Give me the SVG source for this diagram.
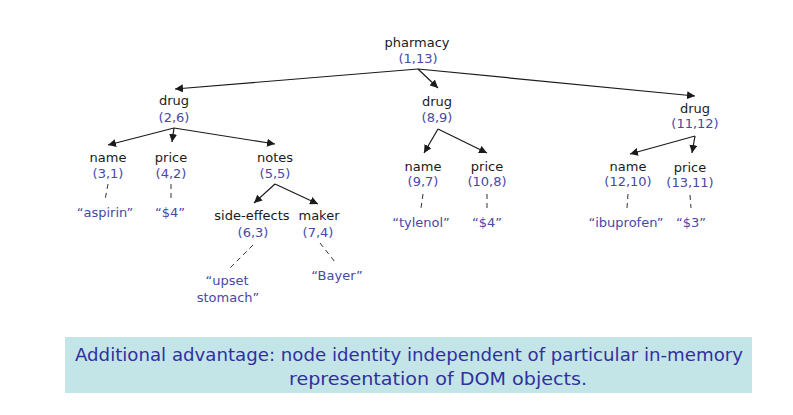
<svg xmlns="http://www.w3.org/2000/svg" width="793" height="415" viewBox="0 0 793 415">
<style>
text{font-family:"DejaVu Sans","Liberation Sans",sans-serif;font-size:13px;text-anchor:middle}
.l{fill:#1a1a1a}
.n{fill:#4848a8}
.e{stroke:#1a1a1a;stroke-width:1.2;fill:none;marker-end:url(#ah)}
.d{stroke:#333;stroke-width:1;fill:none;stroke-dasharray:5 4}
.note{font-family:"Comic Sans MS","DejaVu Sans Condensed","DejaVu Sans",sans-serif;font-size:18px;fill:#3030a0;text-anchor:start}
</style>
<defs>
<marker id="ah" viewBox="0 0 10 10" refX="10" refY="5" markerWidth="8" markerHeight="8" markerUnits="userSpaceOnUse" orient="auto">
<path d="M0,0 L10,5 L0,10 z" fill="#1a1a1a"/>
</marker>
</defs>
<rect width="793" height="415" fill="#fff"/>
<g id="connectors">
<line class="e" x1="418" y1="69" x2="175" y2="89"/>
<line class="e" x1="418" y1="69" x2="438" y2="88"/>
<line class="e" x1="418" y1="69" x2="695" y2="96"/>
<line class="e" x1="174" y1="128" x2="108" y2="145"/>
<line class="e" x1="174" y1="128" x2="172" y2="142"/>
<line class="e" x1="174" y1="128" x2="275" y2="144"/>
<line class="e" x1="275" y1="184" x2="254" y2="203"/>
<line class="e" x1="275" y1="184" x2="318" y2="204"/>
<line class="e" x1="438" y1="129" x2="424" y2="153"/>
<line class="e" x1="438" y1="129" x2="487" y2="153"/>
<line class="e" x1="695" y1="136" x2="630" y2="154"/>
<line class="e" x1="695" y1="136" x2="692" y2="153"/>
<line class="d" x1="108" y1="184" x2="105" y2="200"/>
<line class="d" x1="171" y1="184" x2="171" y2="200"/>
<line class="d" x1="423" y1="194" x2="421" y2="208"/>
<line class="d" x1="487" y1="194" x2="487" y2="208"/>
<line class="d" x1="628" y1="194" x2="627" y2="208"/>
<line class="d" x1="690" y1="195" x2="691" y2="208"/>
<line class="d" x1="253" y1="245" x2="228" y2="270"/>
<line class="d" x1="320" y1="243" x2="335" y2="262"/>
</g>
<g id="pharmacy"><text class="l" x="417" y="47">pharmacy</text><text class="n" x="418" y="63">(1,13)</text></g>
<g id="drug1"><text class="l" x="174" y="105">drug</text><text class="n" x="174" y="122">(2,6)</text></g>
<g id="drug2"><text class="l" x="437" y="106">drug</text><text class="n" x="437" y="122">(8,9)</text></g>
<g id="drug3"><text class="l" x="695" y="113">drug</text><text class="n" x="695" y="128">(11,12)</text></g>
<g id="name1"><text class="l" x="108" y="162">name</text><text class="n" x="108" y="178">(3,1)</text></g>
<g id="price1"><text class="l" x="171" y="162">price</text><text class="n" x="171" y="178">(4,2)</text></g>
<g id="notes"><text class="l" x="275" y="162">notes</text><text class="n" x="275" y="178">(5,5)</text></g>
<g id="sideeffects"><text class="l" x="252" y="220">side-effects</text><text class="n" x="253" y="237">(6,3)</text></g>
<g id="maker"><text class="l" x="319" y="220">maker</text><text class="n" x="318" y="237">(7,4)</text></g>
<g id="name2"><text class="l" x="423" y="171">name</text><text class="n" x="423" y="186">(9,7)</text></g>
<g id="price2"><text class="l" x="487" y="171">price</text><text class="n" x="487" y="186">(10,8)</text></g>
<g id="name3"><text class="l" x="628" y="171">name</text><text class="n" x="628" y="186">(12,10)</text></g>
<g id="price3"><text class="l" x="690" y="172">price</text><text class="n" x="690" y="187">(13,11)</text></g>
<g id="aspirin"><text class="n" x="105" y="217">“aspirin”</text></g>
<g id="p4a"><text class="n" x="170" y="217">“$4”</text></g>
<g id="tylenol"><text class="n" x="421" y="227">“tylenol”</text></g>
<g id="p4b"><text class="n" x="487" y="227">“$4”</text></g>
<g id="ibuprofen"><text class="n" x="626" y="227">“ibuprofen”</text></g>
<g id="p3"><text class="n" x="691" y="227">“$3”</text></g>
<g id="upset"><text class="n" x="227" y="285">“upset</text><text class="n" x="228" y="302">stomach”</text></g>
<g id="bayer"><text class="n" x="337" y="280">“Bayer”</text></g>
<g id="note">
<rect x="65" y="337" width="687" height="56" fill="#c4e5e8"/>
<text class="note" x="75" y="361" textLength="668" lengthAdjust="spacingAndGlyphs">Additional advantage: node identity independent of particular in-memory</text>
<text class="note" x="289" y="385" textLength="298" lengthAdjust="spacingAndGlyphs">representation of DOM objects.</text>
</g>
</svg>
